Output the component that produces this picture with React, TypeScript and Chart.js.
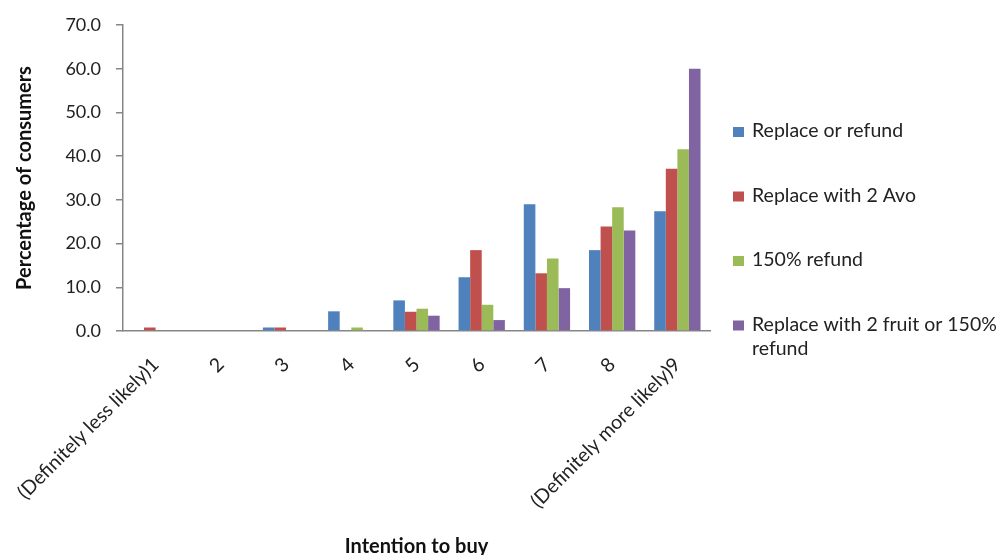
import React, { useEffect, useRef } from 'react';
import { Chart, registerables } from 'chart.js';

Chart.register(...registerables);

const categories = [
  '(Definitely less likely)1',
  '2',
  '3',
  '4',
  '5',
  '6',
  '7',
  '8',
  '(Definitely more likely)9',
];
const seriesNames = [
  'Replace or refund',
  'Replace with 2 Avo',
  '150% refund',
  'Replace with 2 fruit or 150% refund',
];
const replaceOrRefund = [0, 0, 0.8, 4.5, 7.0, 12.3, 29.0, 18.5, 27.4];
const replaceWith2Avo = [0.8, 0, 0.8, 0, 4.4, 18.5, 13.2, 23.9, 37.1];
const refund150 = [0, 0, 0, 0.8, 5.1, 6.0, 16.6, 28.3, 41.6];
const replaceWith2Fruit = [0, 0, 0, 0, 3.5, 2.5, 9.8, 23.0, 60.0];
const yMin = 0;
const yMax = 70;
const yStep = 10;
const seriesColors = ['#4F81BD', '#C0504D', '#9BBB59', '#8064A2'];

const FONT = 'Lato, "Open Sans", sans-serif';
const TEXT = '#222222';
const AXIS = '#868686';

function wrapText(ctx: CanvasRenderingContext2D, text: string, maxW: number): string[] {
  const words = text.split(' ');
  const lines: string[] = [];
  let cur = '';
  for (const w of words) {
    const test = cur ? cur + ' ' + w : w;
    if (cur && ctx.measureText(test).width > maxW) {
      lines.push(cur);
      cur = w;
    } else {
      cur = test;
    }
  }
  if (cur) lines.push(cur);
  return lines;
}

const sideLegend = {
  id: 'sideLegend',
  afterDraw(chart: any) {
    const ctx: CanvasRenderingContext2D = chart.ctx;
    const area = chart.chartArea;
    const boxX = area.right + 23;
    const textX = boxX + 19;
    const maxW = chart.width - textX;
    let y = area.top + 106;
    ctx.save();
    ctx.font = `19.5px ${FONT}`;
    ctx.textBaseline = 'middle';
    ctx.textAlign = 'left';
    chart.data.datasets.forEach((ds: any) => {
      const lines = wrapText(ctx, ds.label, maxW);
      ctx.fillStyle = ds.backgroundColor;
      ctx.fillRect(boxX, y - 4, 11, 10);
      ctx.fillStyle = TEXT;
      lines.forEach((ln, j) => ctx.fillText(ln, textX, y + j * 24));
      y += 64.5;
    });
    ctx.restore();
  },
};

export default function App() {
  const ref = useRef<HTMLCanvasElement | null>(null);

  useEffect(() => {
    document.body.style.margin = '0';
    const canvas = ref.current;
    if (!canvas) return;
    const seriesValues = [replaceOrRefund, replaceWith2Avo, refund150, replaceWith2Fruit];
    const chart = new Chart(canvas, {
      type: 'bar',
      data: {
        labels: categories,
        datasets: seriesNames.map((name, i) => ({
          label: name,
          data: seriesValues[i],
          backgroundColor: seriesColors[i],
          borderWidth: 0,
          categoryPercentage: 0.71,
          barPercentage: 1.0,
        })),
      },
      options: {
        responsive: false,
        animation: false,
        devicePixelRatio: 1,
        layout: { padding: { top: 25, right: 291, left: 0, bottom: 0 } },
        plugins: {
          legend: { display: false },
          tooltip: { enabled: false },
        },
        scales: {
          x: {
            grid: { display: false, drawTicks: false },
            border: { display: true, color: AXIS, width: 1.5 },
            ticks: {
              autoSkip: false,
              minRotation: 45,
              maxRotation: 45,
              padding: 22,
              color: TEXT,
              font: { family: FONT, size: 19.5 },
            },
            title: {
              display: true,
              text: 'Intention to buy',
              color: '#111111',
              font: { family: FONT, size: 20, weight: 'bold', lineHeight: 0.8 },
              padding: { top: 0, bottom: 0 },
            },
            afterFit(scale: any) {
              scale.height = 555 - 331;
              scale.paddingLeft = 0;
              scale.paddingRight = 0;
            },
          },
          y: {
            min: yMin,
            max: yMax,
            grid: {
              drawOnChartArea: false,
              drawTicks: true,
              tickLength: 7,
              color: AXIS,
              lineWidth: 1.5,
            },
            border: { display: true, color: AXIS, width: 1.5 },
            ticks: {
              stepSize: yStep,
              padding: 15,
              color: TEXT,
              font: { family: FONT, size: 18 },
              callback: (v: any) => Number(v).toFixed(1),
            },
            title: {
              display: true,
              text: 'Percentage of consumers',
              color: '#111111',
              font: { family: FONT, size: 20, weight: 'bold', lineHeight: 1.2 },
              padding: { top: 13, bottom: 0 },
            },
            afterFit(scale: any) {
              scale.width = 123;
              scale.paddingTop = 0;
              scale.paddingBottom = 0;
            },
          },
        },
      },
      plugins: [sideLegend],
    });
    return () => chart.destroy();
  }, []);

  return (
    <canvas
      ref={ref}
      width={1001}
      height={555}
      style={{ display: 'block', width: 1001, height: 555 }}
    />
  );
}
